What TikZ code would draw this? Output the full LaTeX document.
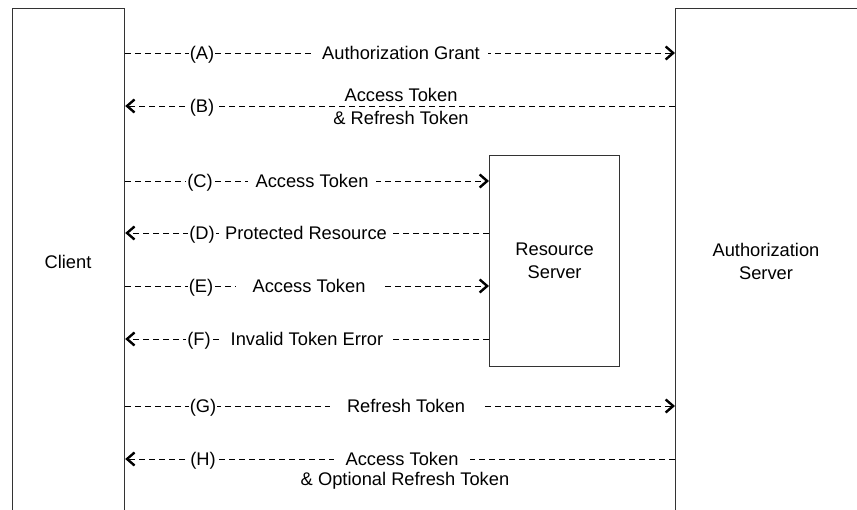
\documentclass[tikz,border=0pt]{standalone}
\usepackage{fontspec}
\setmainfont{Liberation Sans}
\usetikzlibrary{arrows.meta}
\begin{document}
\begin{tikzpicture}[x=1pt,y=-1pt,
  box/.style={draw=black!80,line width=1.2pt,inner sep=0pt,anchor=north west},
  tipstyle/.tip={Straight Barb[length=7.5pt,width=13pt,line width=2.4pt,sharp]},
  msg/.style={dash pattern=on 6pt off 4pt,line width=0.9pt,-tipstyle},
  lbl/.style={font=\fontsize{18.3}{23}\selectfont,inner sep=0pt,align=center},
  tag/.style={lbl,fill=white,inner xsep=1pt,inner ysep=2pt,text height=13pt,text depth=0pt},
  txt/.style={lbl,fill=white,inner xsep=8pt,inner ysep=2pt,text height=13pt,text depth=0pt},
]
\useasboundingbox (0,0) rectangle (857,510);
% boxes
\node[box,minimum width=112pt,minimum height=540pt] (client) at (12,8) {};
\node[box,minimum width=220pt,minimum height=540pt] (auth) at (675,8) {};
\node[box,minimum width=130pt,minimum height=211pt] (rs) at (489,155) {};
\node[lbl] (clientL) at (68,262) {Client};
\node[lbl] (authL) at (766,261) {Authorization\\Server};
\node[lbl] (rsL) at (rs.center) {Resource\\Server};
% rows
\coordinate (yA) at (0,53);
\coordinate (yB) at (0,106);
\coordinate (yC) at (0,181);
\coordinate (yD) at (0,233);
\coordinate (yE) at (0,286);
\coordinate (yF) at (0,339);
\coordinate (yG) at (0,406);
\coordinate (yH) at (0,459);
% messages
\draw[msg] (client.east |- yA) -- (auth.west |- yA);
\draw[msg] (auth.west |- yB) -- (client.east |- yB);
\draw[msg] (client.east |- yC) -- (rs.west |- yC);
\draw[msg] (rs.west |- yD) -- (client.east |- yD);
\draw[msg] (client.east |- yE) -- (rs.west |- yE);
\draw[msg] (rs.west |- yF) -- (client.east |- yF);
\draw[msg] (client.east |- yG) -- (auth.west |- yG);
\draw[msg] (auth.west |- yH) -- (client.east |- yH);
% step tags
\node[tag] (tA) at (202,53) {(A)};
\node[tag] (tB) at (202,106) {(B)};
\node[tag] (tC) at (200,181) {(C)};
\node[tag] (tD) at (202,233) {(D)};
\node[tag] (tE) at (201,286) {(E)};
\node[tag] (tF) at (199,339) {(F)};
\node[tag] (tG) at (203,406) {(G)};
\node[tag] (tH) at (203,459) {(H)};
% message texts
\node[txt] (mA) at (401,53) {Authorization Grant};
\node[lbl] (mB) at (401,106) {Access Token\\\& Refresh Token};
\node[txt] (mC) at (312,181) {Access Token};
\node[txt,inner xsep=5pt] (mD) at (306,233) {Protected Resource};
\node[txt,inner xsep=17pt] (mE) at (309,286) {Access Token};
\node[txt,inner xsep=10pt] (mF) at (307,339) {Invalid Token Error};
\node[txt,inner xsep=17pt] (mG) at (406,406) {Refresh Token};
\node[txt,inner xsep=12pt] (mH) at (402,459) {Access Token};
\node[lbl] (mH2) at (405,481) {\& Optional Refresh Token};
\end{tikzpicture}
\end{document}
